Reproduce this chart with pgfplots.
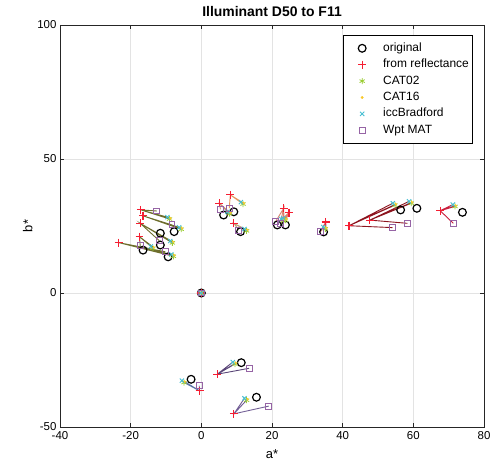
\documentclass[border=0pt]{standalone}
\usepackage{fontspec}
\setmainfont{Liberation Sans}
\usepackage{pgfplots}
\pgfplotsset{compat=1.18}
\definecolor{c02}{RGB}{154,205,50}
\definecolor{c16}{RGB}{250,200,40}
\definecolor{cbr}{RGB}{70,190,210}
\definecolor{cwp}{RGB}{150,100,165}
\definecolor{crf}{RGB}{245,30,50}
\definecolor{lol}{RGB}{110,110,45}
\definecolor{lm1}{RGB}{205,140,110}
\definecolor{lm2}{RGB}{230,150,90}
\definecolor{lm3}{RGB}{190,165,120}
\definecolor{ln}{RGB}{220,130,110}
\definecolor{lp}{RGB}{200,80,90}
\definecolor{lq}{RGB}{140,20,30}
\definecolor{lq3}{RGB}{200,30,60}
\definecolor{ls1}{RGB}{90,115,165}
\definecolor{ls2}{RGB}{90,70,120}
\definecolor{ls3}{RGB}{115,95,150}
\pgfplotsset{myleg/.style={legend image code/.code={\path[draw=none,fill=none] (0bp,-3bp) (28bp,3bp); \draw[##1] plot coordinates {(17bp,0bp)};}}}
\begin{document}
\begin{tikzpicture}
\useasboundingbox (0,0) rectangle (492bp,468bp);
\begin{axis}[at={(60bp,41bp)}, anchor=south west, scale only axis,
  width=424bp, height=402bp,
  xmin=-40, xmax=80, ymin=-50, ymax=100,
  xtick={-40,-20,...,80}, ytick={-50,0,50,100},
  grid=major, major grid style={gray!22, line width=0.5pt},
  tick align=inside, major tick length=4bp,
  tick style={black!85, line width=0.5pt},
  axis line style={black!85, line width=0.5pt},
  ticklabel style={font=\fontsize{11.5}{14}\selectfont},
  xticklabel style={yshift=-1bp},
  /pgf/number format/assume math mode=true,
  title={\bfseries Illuminant D50 to F11},
  title style={font=\fontsize{14}{16}\selectfont, yshift=-1.5bp},
  xlabel={a*}, ylabel={b*},
  label style={font=\fontsize{13}{15}\selectfont},
  xlabel style={yshift=-3bp},
  ylabel style={yshift=-2bp},
  legend style={at={(0.972,0.975)}, anchor=north east,
    font=\fontsize{12}{14}\selectfont, draw=black, line width=0.5pt,
    row sep=2.4bp, inner xsep=2bp, inner ysep=6bp,
    nodes={inner sep=1bp, text height=9bp, text depth=3bp},
    /tikz/every odd column/.append style={column sep=9bp},
    cells={anchor=west}},
  legend cell align=left,
]
% connecting lines: reflectance -> CAT02, CAT16, iccBradford, Wpt MAT
\addplot[lol, line width=0.9pt, forget plot] coordinates {(-17.1,31.0) (-9.0,27.6) (-17.1,31.0) (-8.8,27.9) (-17.1,31.0) (-9.6,28.3) (-17.1,31.0) (-12.6,30.6)};
\addplot[lol, line width=0.9pt, forget plot] coordinates {(-16.5,28.8) (-5.7,23.8) (-16.5,28.8) (-5.5,24.1) (-16.5,28.8) (-6.3,24.5) (-16.5,28.8) (-8.3,25.4)};
\addplot[lol, line width=0.9pt, forget plot] coordinates {(-17.3,26.0) (-8.2,18.7) (-17.3,26.0) (-8.0,19.0) (-17.3,26.0) (-8.8,19.4) (-17.3,26.0) (-11.9,19.5)};
\addplot[lol, line width=0.9pt, forget plot] coordinates {(-17.5,21.0) (-13.7,16.7) (-17.5,21.0) (-13.5,17.0) (-17.5,21.0) (-14.3,17.4) (-17.5,21.0) (-17.3,17.6)};
\addplot[lol, line width=0.9pt, forget plot] coordinates {(-23.4,18.8) (-7.9,13.7) (-23.4,18.8) (-7.7,14.0) (-23.4,18.8) (-8.5,14.4) (-23.4,18.8) (-10.2,15.4)};
\addplot[lm1, line width=0.9pt, forget plot] coordinates {(5.1,33.5) (8.0,29.6) (5.1,33.5) (8.2,29.9) (5.1,33.5) (7.4,30.3) (5.1,33.5) (5.4,31.2)};
\addplot[lm2, line width=0.9pt, forget plot] coordinates {(8.2,36.6) (11.8,33.2) (8.2,36.6) (12.0,33.5) (8.2,36.6) (11.2,33.9) (8.2,36.6) (7.9,31.6)};
\addplot[lm3, line width=0.9pt, forget plot] coordinates {(9.2,26.0) (12.8,23.2) (9.2,26.0) (13.0,23.5) (9.2,26.0) (12.2,23.9) (9.2,26.0) (10.6,23.5)};
\addplot[ln, line width=0.9pt, forget plot] coordinates {(23.3,31.6) (23.2,26.9) (23.3,31.6) (23.4,27.2) (23.3,31.6) (22.6,27.6) (23.3,31.6) (21.0,26.6)};
\addplot[ln, line width=0.9pt, forget plot] coordinates {(24.8,30.0) (23.8,27.2) (24.8,30.0) (24.0,27.5) (24.8,30.0) (23.2,27.9) (24.8,30.0) (22.4,25.8)};
\addplot[lp, line width=0.9pt, forget plot] coordinates {(35.2,26.5) (35.1,23.9) (35.2,26.5) (35.3,24.2) (35.2,26.5) (34.5,24.6) (35.2,26.5) (33.7,22.8)};
\addplot[lq, line width=0.9pt, forget plot] coordinates {(41.8,25.1) (54.8,32.8) (41.8,25.1) (55.0,33.1) (41.8,25.1) (54.2,33.5) (41.8,25.1) (54.1,24.4)};
\addplot[lq, line width=0.9pt, forget plot] coordinates {(47.7,27.2) (59.4,33.5) (47.7,27.2) (59.6,33.8) (47.7,27.2) (58.8,34.2) (47.7,27.2) (58.3,26.0)};
\addplot[lq3, line width=0.9pt, forget plot] coordinates {(67.6,30.7) (71.8,32.3) (67.6,30.7) (72.0,32.6) (67.6,30.7) (71.2,33.0) (67.6,30.7) (71.3,26.0)};
\addplot[ls1, line width=0.9pt, forget plot] coordinates {(-0.5,-36.5) (-4.9,-33.4) (-0.5,-36.5) (-4.7,-33.1) (-0.5,-36.5) (-5.5,-32.7) (-0.5,-36.5) (-0.6,-34.6)};
\addplot[ls2, line width=0.9pt, forget plot] coordinates {(4.5,-30.3) (9.5,-26.5) (4.5,-30.3) (9.7,-26.2) (4.5,-30.3) (8.9,-25.8) (4.5,-30.3) (13.5,-28.1)};
\addplot[ls3, line width=0.9pt, forget plot] coordinates {(9.2,-45.1) (12.8,-40.0) (9.2,-45.1) (13.0,-39.7) (9.2,-45.1) (12.2,-39.3) (9.2,-45.1) (19.1,-42.2)};
% original
\addplot[only marks, myleg, mark=o, mark size=3.9pt, black, line width=1.2pt] coordinates {
(-11.6,22.3) (-7.7,22.9) (-11.6,17.9) (-16.5,16.0) (-9.4,13.5)
(6.3,29.1) (9.2,30.3) (11.1,22.9)
(21.5,25.4) (23.8,25.4) (34.6,22.8)
(56.4,31.0) (61.0,31.6) (73.9,30.1)
(-2.9,-32.2) (11.3,-26.0) (15.6,-38.9)
(0,0)};
\addlegendentry{original}
% from reflectance
\addplot[only marks, myleg, color=crf, mark=+, mark size=4pt, line width=1.1pt, mark options={draw=crf, solid}] coordinates {
(-17.1,31.0) (-16.5,28.8) (-17.3,26.0) (-17.5,21.0) (-23.4,18.8)
(5.1,33.5) (8.2,36.6) (9.2,26.0)
(23.3,31.6) (24.8,30.0) (35.2,26.5)
(41.8,25.1) (47.7,27.2) (67.6,30.7)
(-0.5,-36.5) (4.5,-30.3) (9.2,-45.1)
(0,0)};
\addlegendentry{from reflectance}
% CAT02
\addplot[only marks, myleg, color=c02, mark=asterisk, mark size=3pt, line width=0.8pt] coordinates {
(-9.0,27.6) (-5.7,23.8) (-8.2,18.7) (-13.7,16.7) (-7.9,13.7)
(8.0,29.6) (11.8,33.2) (12.8,23.2)
(23.2,26.9) (23.8,27.2) (35.1,23.9)
(54.8,32.8) (59.4,33.5) (71.8,32.3)
(-4.9,-33.4) (9.5,-26.5) (12.8,-40.0)
(0,0)};
\addlegendentry{CAT02}
% CAT16
\addplot[only marks, myleg, color=c16, mark=*, mark size=1.1pt] coordinates {
(-8.8,27.9) (-5.5,24.1) (-8.0,19.0) (-13.5,17.0) (-7.7,14.0)
(8.2,29.9) (12.0,33.5) (13.0,23.5)
(23.4,27.2) (24.0,27.5) (35.3,24.2)
(55.0,33.1) (59.6,33.8) (72.0,32.6)
(-4.7,-33.1) (9.7,-26.2) (13.0,-39.7)
(0,0)};
\addlegendentry{CAT16}
% iccBradford
\addplot[only marks, myleg, color=cbr, mark=x, mark size=3pt, line width=0.9pt] coordinates {
(-9.6,28.3) (-6.3,24.5) (-8.8,19.4) (-14.3,17.4) (-8.5,14.4)
(7.4,30.3) (11.2,33.9) (12.2,23.9)
(22.6,27.6) (23.2,27.9) (34.5,24.6)
(54.2,33.5) (58.8,34.2) (71.2,33.0)
(-5.5,-32.7) (8.9,-25.8) (12.2,-39.3)
(0,0)};
\addlegendentry{iccBradford}
% Wpt MAT
\addplot[only marks, myleg, color=cwp, mark=square, mark size=3pt, line width=1pt] coordinates {
(-12.6,30.6) (-8.3,25.4) (-11.9,19.5) (-17.3,17.6) (-10.2,15.4)
(5.4,31.2) (7.9,31.6) (10.6,23.5)
(21.0,26.6) (22.4,25.8) (33.7,22.8)
(54.1,24.4) (58.3,26.0) (71.3,26.0)
(-0.6,-34.6) (13.5,-28.1) (19.1,-42.2)
(0,0)};
\addlegendentry{Wpt MAT}
\end{axis}
\end{tikzpicture}
\end{document}
